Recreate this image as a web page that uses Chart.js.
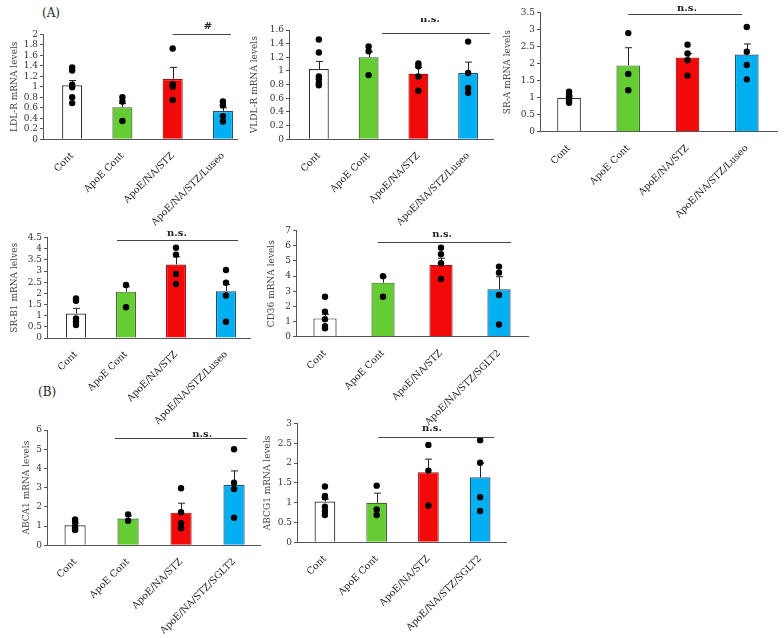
<!DOCTYPE html>
<html lang="en">
<head>
  <meta charset="UTF-8" />
  <title>mRNA levels</title>
  <script src="https://cdn.jsdelivr.net/npm/chart.js"></script>
  <style>
    body { margin: 0; background: #fff; width: 784px; height: 638px; position: relative; overflow: hidden; font-family: "DejaVu Serif", serif; }
    canvas { position: absolute; }
    .tag { position: absolute; font-size: 12px; color: #222; }
  </style>
</head>
<body>
  <div class="tag" style="left:42px;top:6px">(A)</div>
  <div class="tag" style="left:38px;top:385px">(B)</div>

  <script>
    // groups
    const groupsLuseo = ["Cont", "ApoE Cont", "ApoE/NA/STZ", "ApoE/NA/STZ/Luseo"];
    const groupsSglt2 = ["Cont", "ApoE Cont", "ApoE/NA/STZ", "ApoE/NA/STZ/SGLT2"];
    const barColors   = ["#ffffff", "#66cc33", "#f20a0a", "#00b0f0"];
    const barBorders  = ["#333333", "#3f6a2a", "#a01010", "#1f4f7a"];

    // LDL-R
    const ldlrMean = [1.03, 0.61, 1.15, 0.54];
    const ldlrErr  = [1.12, 0.68, 1.37, 0.60];
    const ldlrDots = [[1.37, 1.31, 1.04, 0.99, 0.80, 0.69], [0.80, 0.72, 0.35], [1.73, 1.05, 1.00, 0.75], [0.72, 0.65, 0.44, 0.34]];
    const ldlrTicks = [0, 2, 0.2];

    // VLDL-R
    const vldlrMean = [1.03, 1.20, 0.96, 0.97];
    const vldlrErr  = [1.14, 1.28, 1.05, 1.13];
    const vldlrDots = [[1.46, 1.27, 0.92, 0.88, 0.82, 0.79], [1.36, 1.29, 0.94], [1.11, 1.07, 0.92, 0.71], [1.43, 0.97, 0.75, 0.68]];
    const vldlrTicks = [0, 1.6, 0.2];

    // SR-A
    const sraMean = [1.00, 1.95, 2.18, 2.27];
    const sraErr  = [1.05, 2.47, 2.30, 2.58];
    const sraDots = [[1.18, 1.12, 1.05, 0.98, 0.92, 0.85], [2.90, 1.70, 1.22], [2.56, 2.30, 2.10, 1.65], [3.08, 2.35, 1.96, 1.54]];
    const sraTicks = [0, 3.5, 0.5];

    // SR-B1
    const srb1Mean = [1.10, 2.08, 3.30, 2.10];
    const srb1Err  = [1.33, 2.30, 3.65, 2.40];
    const srb1Dots = [[1.78, 1.67, 0.88, 0.73, 0.58], [2.38, 1.38], [4.05, 3.74, 2.87, 2.42], [3.05, 2.48, 1.91, 0.73]];
    const srb1Ticks = [0, 4.5, 0.5];

    // CD36
    const cd36Mean = [1.21, 3.57, 4.74, 3.13];
    const cd36Err  = [1.48, 3.96, 5.18, 3.96];
    const cd36Dots = [[2.64, 1.65, 1.15, 0.70, 0.55], [4.00, 2.64], [5.88, 5.44, 4.85, 3.81], [4.63, 4.23, 2.75, 0.81]];
    const cd36Ticks = [0, 7, 1];

    // ABCA1
    const abca1Mean = [1.04, 1.39, 1.70, 3.14];
    const abca1Err  = [1.15, 1.53, 2.19, 3.87];
    const abca1Dots = [[1.35, 1.23, 1.00, 0.88, 0.80], [1.61, 1.28], [2.97, 1.72, 1.15, 0.89], [5.00, 3.26, 2.93, 1.44]];
    const abca1Ticks = [0, 6, 1];

    // ABCG1
    const abcg1Mean = [1.03, 1.00, 1.77, 1.64];
    const abcg1Err  = [1.09, 1.24, 2.10, 2.00];
    const abcg1Dots = [[1.41, 1.17, 1.14, 0.90, 0.79, 0.69], [1.43, 0.83, 0.69], [2.46, 1.81, 0.93], [2.58, 2.01, 1.14, 0.79]];
    const abcg1Ticks = [0, 3, 0.5];

    // error bars (upper only) drawn right after the bars
    const errBars = {
      id: "errBars",
      afterDatasetDraw(chart, args, opts) {
        if (args.index !== 0) return;
        const { ctx, scales: { x, y } } = chart;
        ctx.save();
        ctx.strokeStyle = "#222"; ctx.lineWidth = 1;
        opts.mean.forEach((m, i) => {
          const px = Math.round(x.getPixelForValue(i)) + 0.5;
          const y0 = y.getPixelForValue(m), y1 = y.getPixelForValue(opts.err[i]);
          ctx.beginPath();
          ctx.moveTo(px, y0); ctx.lineTo(px, y1);
          ctx.moveTo(px - 3.5, y1); ctx.lineTo(px + 3.5, y1);
          ctx.stroke();
        });
        ctx.restore();
      }
    };

    // significance line with label
    const sigLine = {
      id: "sigLine",
      afterDraw(chart, args, o) {
        const { ctx, scales: { x, y } } = chart;
        const py = Math.round(y.getPixelForValue(o.y)) + 0.5;
        ctx.save();
        ctx.strokeStyle = "#444"; ctx.lineWidth = 1;
        ctx.beginPath();
        ctx.moveTo(x.getPixelForValue(o.x0), py);
        ctx.lineTo(x.getPixelForValue(o.x1), py);
        ctx.stroke();
        ctx.fillStyle = "#222";
        ctx.font = "bold 10px 'DejaVu Serif'";
        ctx.textAlign = "center"; ctx.textBaseline = "middle";
        ctx.fillText(o.text, x.getPixelForValue(o.tx), py - o.dy);
        ctx.restore();
      }
    };

    function panel(p) {
      const padTop = 12, padRight = 6, xH = 100;
      const cLeft = Math.floor(p.l - p.yW);
      const cTop = Math.floor(p.t - padTop);
      const w = Math.ceil(p.r + padRight - cLeft);
      const h = Math.ceil(p.b - cTop + xH);
      const cv = document.createElement("canvas");
      cv.width = w; cv.height = h;
      cv.style.left = cLeft + "px"; cv.style.top = cTop + "px";
      cv.style.width = w + "px"; cv.style.height = h + "px";
      document.body.appendChild(cv);

      const dots = [];
      p.dots.forEach((g, i) => g.forEach(v => dots.push({ x: i, y: v })));

      new Chart(cv, {
        type: "bar",
        data: {
          datasets: [{
            data: p.mean.map((v, i) => ({ x: i, y: v })),
            backgroundColor: barColors, borderColor: barBorders, borderWidth: 1.2,
            barPercentage: 1, categoryPercentage: 0.4, order: 2
          }, {
            type: "line", data: dots, showLine: false, order: 1,
            pointRadius: 3.2, pointBackgroundColor: "#000", pointBorderWidth: 0
          }]
        },
        options: {
          responsive: false, animation: false,
          layout: { padding: { left: p.l - p.yW - cLeft, top: p.t - cTop, right: cLeft + w - p.r, bottom: 0 } },
          plugins: {
            legend: { display: false }, tooltip: { enabled: false },
            errBars: { mean: p.mean, err: p.err },
            sigLine: p.sig
          },
          scales: {
            x: {
              type: "linear", min: p.xr[0], max: p.xr[1], offset: false, bounds: "data",
              grid: { display: false, offset: false },
              border: { display: true, color: "#555" },
              afterBuildTicks: s => { s.ticks = p.groups.map((g, i) => ({ value: i })); },
              afterFit: s => { s.height = cTop + h - p.b; },
              ticks: {
                autoSkip: false, minRotation: 45, maxRotation: 45, padding: 3,
                color: "#222", font: { family: "DejaVu Serif", size: 9.5 },
                callback: v => p.groups[v]
              }
            },
            y: {
              min: p.ticks[0], max: p.ticks[1],
              afterFit: s => { s.width = p.yW; },
              grid: { display: true, drawOnChartArea: false, tickLength: 3, color: "#555" },
              border: { display: true, color: "#555" },
              ticks: {
                stepSize: p.ticks[2], autoSkip: false, padding: 2, color: "#333",
                font: { family: "DejaVu Serif", size: 9 },
                callback: v => String(Number(v.toFixed(2)))
              },
              title: { display: true, text: p.title, color: "#444", padding: { top: 0, bottom: 0 }, font: { family: "DejaVu Serif", size: 9 } }
            }
          }
        },
        plugins: [errBars, sigLine]
      });
    }

    panel({ l: 43, r: 237, t: 34.3, b: 139.3, yW: 34, xr: [-0.58, 3.28], groups: groupsLuseo, title: "LDL-R mRNA levels",
      mean: ldlrMean, err: ldlrErr, dots: ldlrDots, ticks: ldlrTicks, sig: { x0: 2.0, x1: 3.16, y: 2.0, tx: 2.7, dy: 8, text: "#" } });
    panel({ l: 289, r: 493, t: 30, b: 139.3, yW: 40, xr: [-0.6, 3.5], groups: groupsLuseo, title: "VLDL-R mRNA levels",
      mean: vldlrMean, err: vldlrErr, dots: vldlrDots, ticks: vldlrTicks, sig: { x0: 1.27, x1: 3.44, y: 1.56, tx: 2.23, dy: 14, text: "n.s." } });
    panel({ l: 540, r: 777, t: 12.7, b: 131.7, yW: 38, xr: [-0.49, 3.51], groups: groupsLuseo, title: "SR-A mRNA levels",
      mean: sraMean, err: sraErr, dots: sraDots, ticks: sraTicks, sig: { x0: 1.0, x1: 2.92, y: 3.46, tx: 1.99, dy: 6, text: "n.s." } });
    panel({ l: 47, r: 250, t: 237.7, b: 338, yW: 38, xr: [-0.58, 3.48], groups: groupsLuseo, title: "SR-B1 mRNA lelves",
      mean: srb1Mean, err: srb1Err, dots: srb1Dots, ticks: srb1Ticks, sig: { x0: 0.82, x1: 3.24, y: 4.4, tx: 2.02, dy: 7, text: "n.s." } });
    panel({ l: 296, r: 528, t: 230.7, b: 336.7, yW: 30, xr: [-0.5, 3.5], groups: groupsSglt2, title: "CD36 mRNA levels",
      mean: cd36Mean, err: cd36Err, dots: cd36Dots, ticks: cd36Ticks, sig: { x0: 0.91, x1: 3.21, y: 6.28, tx: 2.02, dy: 8, text: "n.s." } });
    panel({ l: 47, r: 260, t: 430, b: 545.3, yW: 26, xr: [-0.53, 3.49], groups: groupsSglt2, title: "ABCA1 mRNA levels",
      mean: abca1Mean, err: abca1Err, dots: abca1Dots, ticks: abca1Ticks, sig: { x0: 0.75, x1: 3.25, y: 5.59, tx: 2.4, dy: 4, text: "n.s." } });
    panel({ l: 297, r: 506, t: 423.5, b: 542.3, yW: 35, xr: [-0.54, 3.5], groups: groupsSglt2, title: "ABCG1 mRNA levels",
      mean: abcg1Mean, err: abcg1Err, dots: abcg1Dots, ticks: abcg1Ticks, sig: { x0: 1.03, x1: 3.27, y: 2.65, tx: 2.07, dy: 9, text: "n.s." } });
  </script>
</body>
</html>
